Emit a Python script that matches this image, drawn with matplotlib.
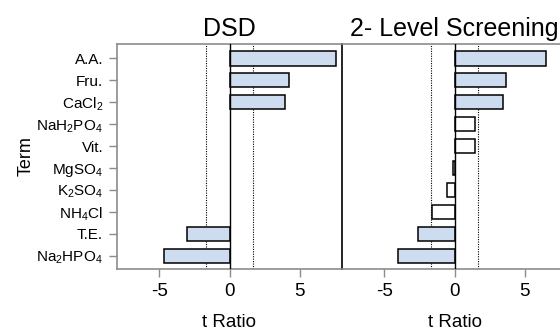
import matplotlib
matplotlib.use("Agg")
import matplotlib.pyplot as plt

plt.rcParams['font.family'] = ['Liberation Sans', 'DejaVu Sans']
plt.rcParams['mathtext.fontset'] = 'custom'
plt.rcParams['mathtext.rm'] = 'Liberation Sans'
plt.rcParams['mathtext.it'] = 'Liberation Sans'
plt.rcParams['mathtext.default'] = 'regular'

terms = ["A.A.", "Fru.", r"CaCl$_2$", r"NaH$_2$PO$_4$", "Vit.", r"MgSO$_4$",
         r"K$_2$SO$_4$", r"NH$_4$Cl", "T.E.", r"Na$_2$HPO$_4$"]
dsd_vals = [7.55, 4.25, 3.95, 0, 0, 0, 0, 0, -3.0, -4.65]
dsd_sig = [True, True, True, False, False, False, False, False, True, True]
dsd_present = [True, True, True, False, False, False, False, False, True, True]
scr_vals = [6.5, 3.67, 3.43, 1.47, 1.48, -0.14, -0.5, -1.59, -2.61, -4.0]
scr_sig = [True, True, True, False, False, False, False, False, True, True]
crit = 1.65
titles = ["DSD", "2- Level Screening"]

fig = plt.figure(figsize=(5.6, 3.33), dpi=100)
W, H = 560, 333
def ax_at(x0, y0, x1, y1):
    return fig.add_axes([x0 / W, 1 - y1 / H, (x1 - x0) / W, (y1 - y0) / H])

ax1 = ax_at(117, 44, 342, 269)
ax2 = ax_at(342, 44, 567, 269)

blue = "#cddcee"
gray = "#8c8c8c"
ypos = list(range(len(terms)))

def draw(ax, vals, sig, present, title, show_y):
    for y, v, s, p in zip(ypos, vals, sig, present):
        if not p:
            continue
        ax.barh(y, v, height=0.66, color=blue if s else "white",
                edgecolor="black", linewidth=1.1, zorder=3)
    ax.axvline(0, color="black", linewidth=1.0, zorder=4)
    ax.axvline(crit, color="black", linewidth=0.8, linestyle=(0, (1, 1.2)), zorder=2)
    ax.axvline(-crit, color="black", linewidth=0.8, linestyle=(0, (1, 1.2)), zorder=2)
    ax.set_xlim(-8, 8)
    ax.set_ylim(9.6, -0.65)
    ax.set_xticks([-5, 0, 5])
    ax.set_xticklabels(["-5", "0", "5"], fontsize=13.5)
    ax.tick_params(axis="x", direction="out", length=6, color=gray, width=1, pad=4)
    ax.set_xlabel("t Ratio", fontsize=13.5, labelpad=10)
    ax.set_title(title, fontsize=18, pad=6)
    for sp in ["top", "bottom", "left"]:
        ax.spines[sp].set_color(gray)
        ax.spines[sp].set_linewidth(1.2)
    ax.spines["right"].set_visible(False)
    if show_y:
        ax.set_yticks(ypos)
        ax.set_yticklabels(terms, fontsize=11)
        ax.tick_params(axis="y", direction="out", length=6, color=gray, width=1, pad=4)
        ax.set_ylabel("Term", fontsize=13, labelpad=1)
    else:
        ax.set_yticks([])
        ax.spines["left"].set_color("black")

draw(ax1, dsd_vals, dsd_sig, dsd_present, titles[0], True)
draw(ax2, scr_vals, scr_sig, [True] * len(terms), titles[1], False)

fig.savefig("out.png", dpi=100)
